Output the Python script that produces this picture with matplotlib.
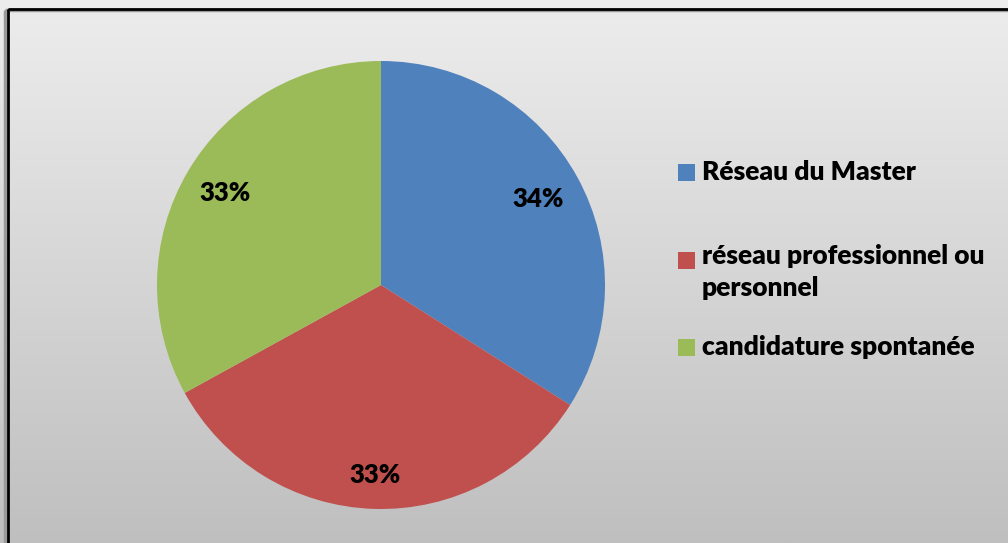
import numpy as np
import matplotlib
matplotlib.use('Agg')
import matplotlib.pyplot as plt
from matplotlib.patches import Rectangle

# données du graphique
labels = ['Réseau du Master', 'réseau professionnel ou\npersonnel', 'candidature spontanée']
values = [34, 33, 33]
colors = ['#4F81BD', '#C0504D', '#9BBB59']

W, H = 1008, 543
fig = plt.figure(figsize=(W / 100, H / 100), dpi=100)

# fond dégradé
bg = fig.add_axes([0, 0, 1, 1])
grad = np.linspace(0, 1, 256).reshape(-1, 1)
cmap = matplotlib.colors.LinearSegmentedColormap.from_list('g', ['#EDEDED', '#BFBFBF'])
bg.imshow(grad, aspect='auto', cmap=cmap, extent=[0, W, H, 0])
bg.set_xlim(0, W)
bg.set_ylim(H, 0)
bg.axis('off')
# ombre + cadre
bg.add_patch(Rectangle((5, 10), W + 20, H + 20, fill=False, edgecolor='#9a9a9a', lw=2.5))
bg.add_patch(Rectangle((7.5, 8.5), W + 20, H + 20, fill=False, edgecolor='black', lw=2))

font = dict(fontsize=19, fontweight='heavy', family='Lato', color='black')

# camembert
cx, cy, r = 381, 285, 224
ax = fig.add_axes([(cx - r) / W, (H - cy - r) / H, 2 * r / W, 2 * r / H])
wedges, _, pcts = ax.pie(values, colors=colors, startangle=90, counterclock=False, radius=1,
                         autopct='%1.0f%%', pctdistance=0.8,
                         textprops=dict(font, fontsize=18.5))
# distance des étiquettes comme dans Excel
for w, t, d in zip(wedges, pcts, [0.80, 0.85, 0.81]):
    a = np.deg2rad((w.theta1 + w.theta2) / 2)
    t.set_position((d * np.cos(a), d * np.sin(a)))
ax.set_xlim(-1, 1)
ax.set_ylim(-1, 1)
ax.axis('off')

# légende
leg_y = [172, 260, 347]
for lab, col, y in zip(labels, colors, leg_y):
    bg.add_patch(Rectangle((678, y - 8), 17, 17, facecolor=col, edgecolor='none'))
    if '\n' in lab:
        bg.text(702, y - 16, lab, va='top', ha='left', linespacing=1.4, **font)
    else:
        bg.text(702, y, lab, va='center', ha='left', **font)

fig.savefig('out.png', dpi=100)
